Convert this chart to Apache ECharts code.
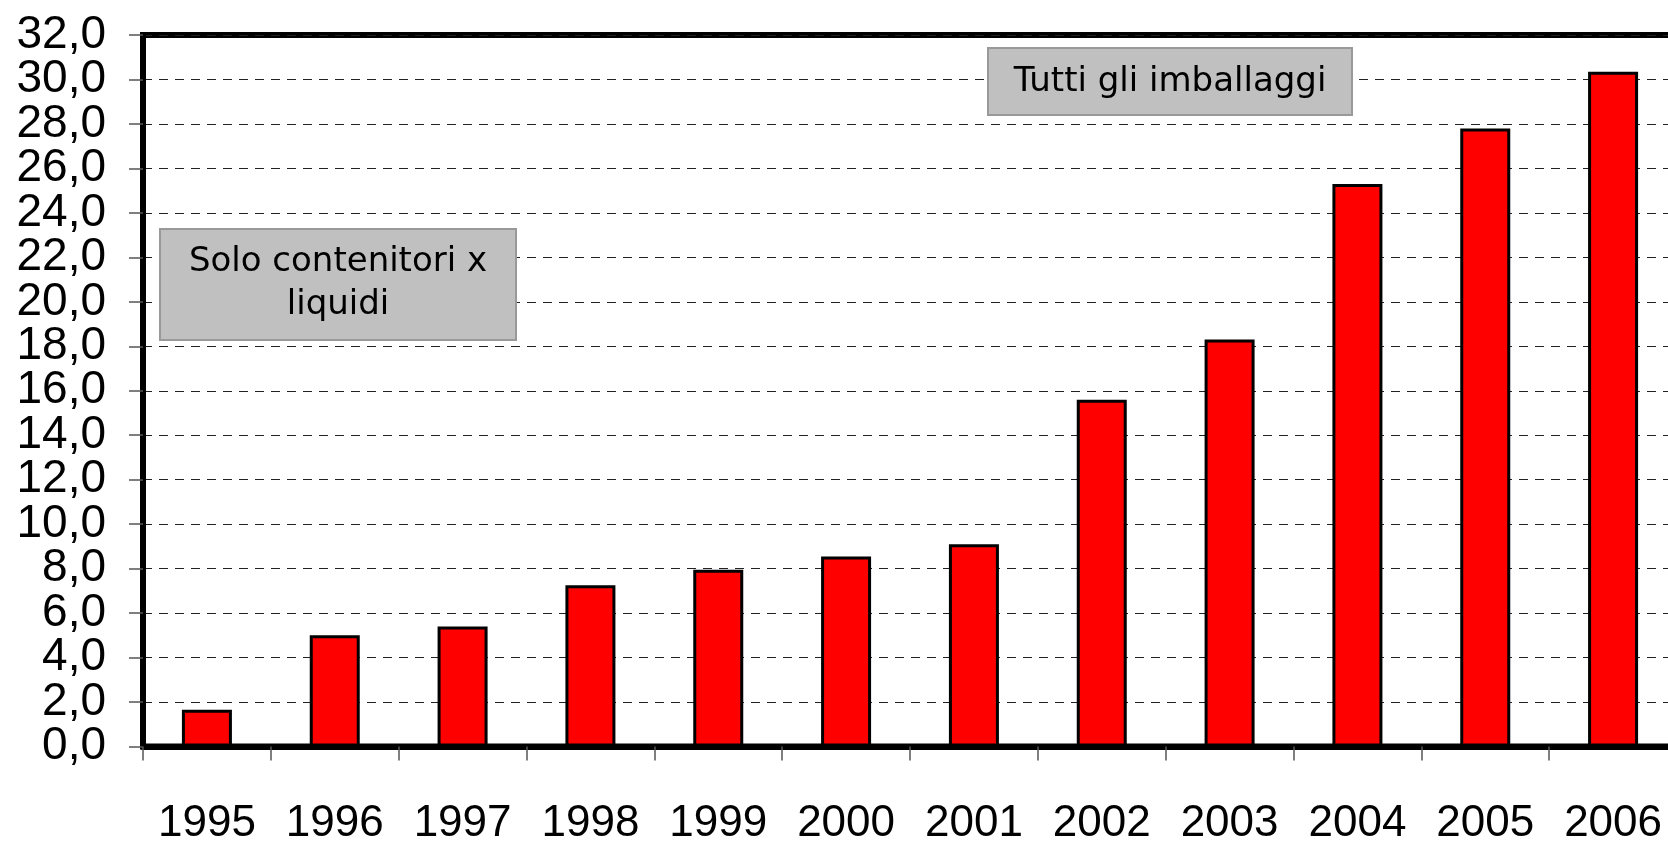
<!DOCTYPE html>
<html>
<head>
<meta charset="utf-8">
<script src="https://cdn.jsdelivr.net/npm/echarts@6/dist/echarts.min.js"></script>
<style>
  html, body { margin: 0; padding: 0; background: #fff; }
  #main { width: 1668px; height: 846px; }
</style>
</head>
<body>
<div id="main"></div>
<script>
// anni sull'asse x
const years = ['1995', '1996', '1997', '1998', '1999', '2000', '2001', '2002', '2003', '2004', '2005', '2006'];
// valori
const values = [1.65, 5.0, 5.4, 7.25, 7.95, 8.55, 9.1, 15.6, 18.3, 25.3, 27.8, 30.35];
// scala asse y
const yMin = 0;
const yMax = 32;
const yStep = 2;
// riquadri di testo
const noteAll = 'Tutti gli imballaggi';
const noteLiquid = 'Solo contenitori x\nliquidi';

const chartDom = document.getElementById('main');
const myChart = echarts.init(chartDom);
const boxFont = '34px "Comic Sans MS", "DejaVu Sans", sans-serif';
const axisFont = "'Liberation Sans', Arial, sans-serif";

// le etichette y sono fitte: le divido su due assi sovrapposti
// (uno mostra 0,4,8..., l'altro 2,6,10...) così echarts non ne nasconde nessuna
const fmt = (v) => v.toFixed(1).replace('.', ',');
const makeYAxis = (even, showLines) => ({
    type: 'value',
    position: 'left',
    min: yMin,
    max: yMax,
    interval: yStep,
    axisLine: { show: showLines, lineStyle: { color: '#000', width: 6 } },
    axisTick: { show: showLines, length: 14, lineStyle: { color: '#555', width: 1.5 } },
    axisLabel: {
        showMinLabel: true,
        showMaxLabel: true,
        hideOverlap: false,
        margin: 37,
        fontFamily: axisFont,
        fontSize: 46,
        color: '#000',
        formatter: function (v) {
            const isEven = Math.round(v / yStep) % 2 === 0;
            return isEven === even ? fmt(v) : '';
        }
    },
    splitLine: {
        show: showLines,
        lineStyle: { color: '#222', width: 1, type: [9, 7] }
    }
});

const option = {
    animation: false,
    backgroundColor: '#fff',
    grid: {
        left: 143,
        top: 35,
        width: 1534,
        height: 711.5,
        outerBoundsMode: 'none',
        containLabel: false,
        show: true,
        borderColor: '#000',
        borderWidth: 6
    },
    xAxis: {
        type: 'category',
        data: years,
        boundaryGap: true,
        axisLine: { show: true, lineStyle: { color: '#000', width: 6 } },
        axisTick: { show: true, length: 14, lineStyle: { color: '#555', width: 1.5 } },
        axisLabel: {
            interval: 0,
            hideOverlap: false,
            margin: 55,
            fontFamily: axisFont,
            fontSize: 44,
            color: '#000'
        },
        splitLine: { show: false }
    },
    yAxis: [makeYAxis(true, true), makeYAxis(false, false)],
    series: [
        {
            type: 'bar',
            data: values,
            yAxisIndex: 0,
            barWidth: 50,
            itemStyle: {
                color: '#ff0000',
                borderColor: '#000',
                borderWidth: 3
            }
        }
    ],
    graphic: [
        {
            type: 'rect',
            shape: { x: 988, y: 48, width: 364, height: 67 },
            style: { fill: '#c0c0c0', stroke: '#999', lineWidth: 2 },
            z: 10
        },
        {
            type: 'text',
            x: 1170,
            y: 82,
            style: {
                text: noteAll,
                font: boxFont,
                fill: '#000',
                align: 'center',
                verticalAlign: 'middle'
            },
            z: 11
        },
        {
            type: 'rect',
            shape: { x: 160, y: 229, width: 356, height: 111 },
            style: { fill: '#c0c0c0', stroke: '#999', lineWidth: 2 },
            z: 10
        },
        {
            type: 'text',
            x: 338,
            y: 284,
            style: {
                text: noteLiquid,
                font: boxFont,
                lineHeight: 43,
                fill: '#000',
                align: 'center',
                verticalAlign: 'middle'
            },
            z: 11
        }
    ]
};

option && myChart.setOption(option);
</script>
</body>
</html>
